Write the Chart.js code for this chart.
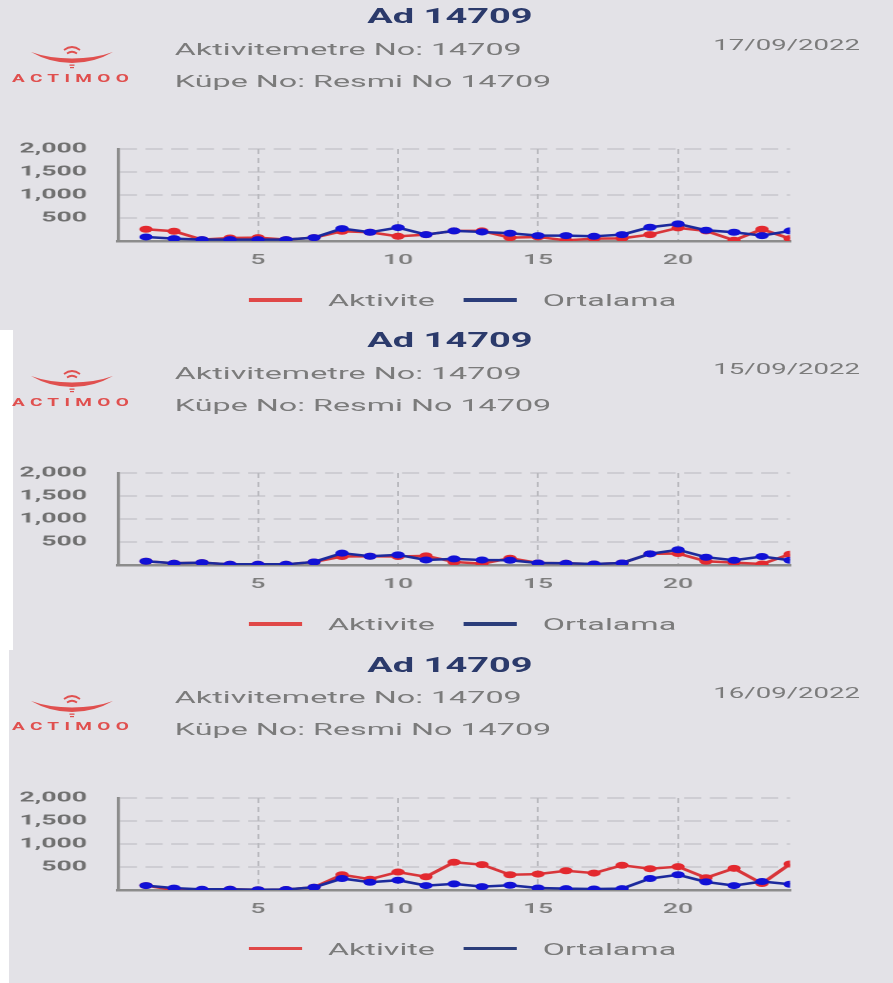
<!DOCTYPE html>
<html>
<head>
<meta charset="utf-8">
<script src="https://cdn.jsdelivr.net/npm/chart.js@4.4.0/dist/chart.umd.min.js"></script>
<style>
  html, body { margin: 0; padding: 0; background: #fff; }
  body { width: 893px; height: 983px; position: relative; overflow: hidden; font-family: Roboto, sans-serif; }
  .bg { position: absolute; background: #e3e2e7; }
  .wrap { position: absolute; left: 0; top: 0; width: 470px; height: 983px; transform: scaleX(1.9); transform-origin: 0 0; }
  .title { position: absolute; left: 136.8px; width: 200px; text-align: center; font-weight: bold; font-size: 20px; line-height: 20px; color: #2b3a6b; white-space: nowrap; }
  .info { position: absolute; left: 92px; font-size: 17px; line-height: 17px; color: #7b7b7b; white-space: nowrap; }
  .date { position: absolute; right: 17.4px; font-size: 14.5px; line-height: 16px; color: #7b7b7b; white-space: nowrap; }
  .brand { position: absolute; left: 6.3px; font-size: 10px; line-height: 10px; font-weight: bold; letter-spacing: 2.8px; color: #e0504f; }
  .legend { position: absolute; left: 130.5px; height: 20px; display: flex; align-items: center; font-size: 17px; line-height: 20px; color: #7b7b7b; white-space: nowrap; }
  .legend .swatch { width: 28.4px; height: 3.5px; margin-right: 13.7px; }
  .legend .lbl { margin-right: 14.7px; }
  canvas { position: absolute; left: 0; }
  svg { position: absolute; left: 0; }
</style>
</head>
<body>
<div class="bg" style="left:0;top:0;width:893px;height:330px"></div>
<div class="bg" style="left:13px;top:330px;width:880px;height:320px"></div>
<div class="bg" style="left:9px;top:650px;width:884px;height:333px"></div>
<div class="wrap" id="wrap"></div>

<script>
const animalName = "Ad 14709";
const meterLine = "Aktivitemetre No: 14709";
const earTagLine = "Küpe No: Resmi No 14709";
const brandName = "ACTIMOO";
const panelDates = ["17/09/2022", "15/09/2022", "16/09/2022"];
const seriesLabels = ["Aktivite", "Ortalama"];

const hours = [1, 2, 3, 4, 5, 6, 7, 8, 9, 10, 11, 12, 13, 14, 15, 16, 17, 18, 19, 20, 21, 22, 23, 24];
const xTicks = [5, 10, 15, 20];
const yTicks = [500, 1000, 1500, 2000];

// 17/09/2022
const activity1 = [255, 212, 30, 65, 73, 30, 73, 212, 190, 102, 139, 219, 219, 73, 88, 15, 51, 58, 139, 285, 219, 15, 255, 51];
const average1 = [88, 51, 30, 30, 30, 30, 73, 270, 190, 292, 139, 219, 197, 168, 117, 117, 102, 139, 299, 372, 234, 190, 117, 219];
// 15/09/2022
const activity2 = [81, 37, 51, 15, 15, 15, 66, 184, 191, 184, 199, 66, 29, 147, 44, 37, 22, 44, 243, 250, 81, 51, 22, 235];
const average2 = [81, 37, 51, 15, 15, 15, 66, 257, 191, 220, 110, 132, 110, 103, 44, 37, 22, 44, 243, 331, 169, 103, 184, 103];
// 16/09/2022
const activity3 = [96, 0, 10, 15, 5, 10, 59, 331, 235, 390, 287, 603, 551, 331, 346, 419, 368, 537, 463, 507, 265, 471, 140, 566];
const average3 = [96, 40, 15, 15, 5, 10, 59, 250, 169, 213, 96, 132, 74, 103, 44, 29, 22, 29, 250, 331, 176, 96, 184, 125];

const panels = [
  { offset: 0, date: panelDates[0], activity: activity1, average: average1 },
  { offset: 324, date: panelDates[1], activity: activity2, average: average2 },
  { offset: 648.5, date: panelDates[2], activity: activity3, average: average3 },
];

const RED = "#e3292f";
const RED_LINE = "#d8363a";
const BLUE = "#1111d6";
const BLUE_LINE = "#1c2a9c";
const legendColors = ["#e04848", "#2b3d7a"];

Chart.defaults.font.family = "Roboto, sans-serif";

const wrap = document.getElementById("wrap");

function addDiv(cls, text, top) {
  const d = document.createElement("div");
  d.className = cls;
  d.textContent = text;
  d.style.top = top + "px";
  wrap.appendChild(d);
  return d;
}

function addLogo(top) {
  const ns = "http://www.w3.org/2000/svg";
  const svg = document.createElementNS(ns, "svg");
  svg.setAttribute("width", "140");
  svg.setAttribute("height", "30");
  svg.style.top = top + 42 + "px";
  svg.innerHTML =
    '<path d="M31,10 Q50,21 72,21 Q94,21 113,10 Q95,16.5 72,16.5 Q49,16.5 31,10 Z" fill="#e0504f"/>' +
    '<path d="M64,8 Q72,2 80,8" stroke="#e0504f" stroke-width="1.8" fill="none"/>' +
    '<path d="M67,11.5 Q72,8 77,11.5" stroke="#e0504f" stroke-width="1.8" fill="none"/>' +
    '<rect x="69.5" y="22.5" width="5" height="1.3" fill="#e0504f"/>' +
    '<rect x="70" y="25" width="4" height="1.2" fill="#e0504f"/>';
  document.body.appendChild(svg);
}

function addLegend(top) {
  const lg = document.createElement("div");
  lg.className = "legend";
  lg.style.top = top + "px";
  seriesLabels.forEach((name, i) => {
    const sw = document.createElement("span");
    sw.className = "swatch";
    sw.style.background = legendColors[i];
    const lb = document.createElement("span");
    lb.className = "lbl";
    lb.textContent = name;
    lg.appendChild(sw);
    lg.appendChild(lb);
  });
  wrap.appendChild(lg);
}

function makeChart(top, activity, average) {
  const canvas = document.createElement("canvas");
  canvas.width = 470;
  canvas.height = 134;
  canvas.style.top = top + "px";
  wrap.appendChild(canvas);

  new Chart(canvas, {
    type: "line",
    data: {
      datasets: [
        {
          label: seriesLabels[0],
          data: hours.map((h, i) => ({ x: h, y: activity[i] })),
          borderColor: RED_LINE,
          backgroundColor: RED,
          pointBackgroundColor: RED,
          pointBorderWidth: 0,
          pointRadius: 3.5,
          borderWidth: 2.5,
          tension: 0,
          order: 1,
        },
        {
          label: seriesLabels[1],
          data: hours.map((h, i) => ({ x: h, y: average[i] })),
          borderColor: BLUE_LINE,
          backgroundColor: BLUE,
          pointBackgroundColor: BLUE,
          pointBorderWidth: 0,
          pointRadius: 3.5,
          borderWidth: 2.5,
          tension: 0,
          order: 0,
        },
      ],
    },
    options: {
      responsive: false,
      animation: false,
      devicePixelRatio: 2,
      layout: { padding: { top: 12, right: 54.2, left: 0, bottom: 0 } },
      plugins: { legend: { display: false }, tooltip: { enabled: false } },
      scales: {
        x: {
          type: "linear",
          min: 0,
          max: 24,
          afterBuildTicks: (axis) => { axis.ticks = xTicks.map((v) => ({ value: v })); },
          afterFit: (axis) => { axis.height = 30; },
          grid: { color: "#b9b9be", lineWidth: 1, drawTicks: false },
          border: { display: true, color: "#8c8c8c", width: 2.5, dash: [5, 4] },
          ticks: { padding: 11, color: "#7d7d7d", font: { size: 14, weight: "500" }, maxRotation: 0 },
        },
        y: {
          min: 0,
          max: 2000,
          afterBuildTicks: (axis) => { axis.ticks = yTicks.map((v) => ({ value: v })); },
          afterFit: (axis) => { axis.width = 62.1; },
          // tick marks kept invisible: their length only sets the label gap
          grid: { color: "#b9b9be", lineWidth: 1, drawTicks: true, tickLength: 16.3, tickColor: "rgba(0,0,0,0)" },
          border: { display: true, color: "#8c8c8c", width: 1.6, dash: [9, 4.5] },
          ticks: { padding: 0, color: "#707070", font: { size: 14, weight: "bold" } },
        },
      },
    },
  });
}

panels.forEach((p) => {
  const o = p.offset;
  addDiv("title", animalName, 6 + o);
  addDiv("info", meterLine, 40.6 + o);
  addDiv("info", earTagLine, 72.6 + o);
  addDiv("date", p.date, 37.5 + o);
  addDiv("brand", brandName, 73.5 + o);
  addLogo(o);
  makeChart(137.3 + o, p.activity, p.average);
  addLegend(290 + o);
});
</script>
</body>
</html>
